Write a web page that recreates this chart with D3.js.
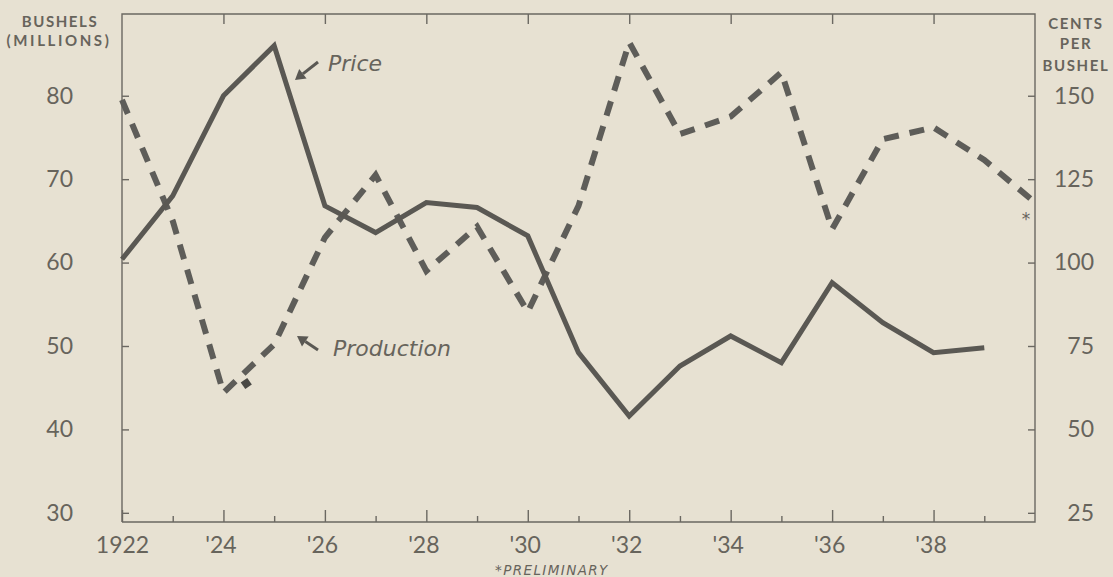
<!DOCTYPE html>
<html>
<head>
<meta charset="utf-8">
<script src="https://cdn.jsdelivr.net/npm/d3@7"></script>
<style>
  html, body { margin: 0; padding: 0; background: #e7e1d2; }
  svg { display: block; }
  text { fill: #67645c; }
  .num { font-family: Lato, "DejaVu Sans", sans-serif; font-size: 23px; }
  .cap { font-family: Lato, "DejaVu Sans", sans-serif; font-weight: 700; font-size: 15px; letter-spacing: 1.6px; }
  .note { font-family: "DejaVu Sans", sans-serif; font-style: italic; font-size: 22px; }
</style>
</head>
<body>
<svg id="chart" width="1113" height="577"></svg>
<script>
// wheat: production (millions of bushels, dashed) and price (cents per bushel, solid)
const priceYears = [1922, 1923, 1924, 1925, 1926, 1927, 1928, 1929, 1930,
  1931, 1932, 1933, 1934, 1935, 1936, 1937, 1938, 1939];
const price = [101, 120, 150, 165, 117, 109, 118, 116.5, 108,
  73, 54, 69, 78, 70, 94, 82, 73, 74.5];

const prodYears = [1922, 1923, 1924, 1925, 1926, 1927, 1928, 1929, 1930,
  1931, 1932, 1933, 1934, 1935, 1936, 1937, 1938, 1939, 1940];
const production = [79.5, 65, 44.4, 50.2, 63, 70.5, 59, 64.3, 54.1,
  66.8, 86.4, 75.4, 77.5, 82.8, 64, 74.8, 76.2, 72.3, 67.2];

const bushelTicks = [30, 40, 50, 60, 70, 80];
const centTicks = [25, 50, 75, 100, 125, 150];
const majorYears = [1922, 1924, 1926, 1928, 1930, 1932, 1934, 1936, 1938];
const minorYears = [1923, 1925, 1927, 1929, 1931, 1933, 1935, 1937, 1939];
const yearLabels = ["1922", "'24", "'26", "'28", "'30", "'32", "'34", "'36", "'38"];

const L = 122, R = 1035, T = 14, B = 522;
const ink = "#5a5853", frame = "#6b6862";

const svg = d3.select("#chart");

const x = d3.scaleLinear().domain([1922, 1940]).range([L, R]);
const yB = d3.scaleLinear().domain([28.9, 89.8]).range([B, T]);
// cents = 2.5 * bushels - 50, so the right scale shares the same grid
const yC = d3.scaleLinear().domain([2.5 * 28.9 - 50, 2.5 * 89.8 - 50]).range([B, T]);

// frame
svg.append("path")
  .attr("d", `M${L},${B}V${T}H${R}V${B}H${L}`)
  .attr("fill", "none").attr("stroke", frame).attr("stroke-width", 1.4);

function styleAxis(g) {
  g.select(".domain").remove();
  g.selectAll("line").attr("stroke", frame).attr("stroke-width", 1.4);
}
function numText(g) {
  g.selectAll("text").attr("class", "num").attr("font-size", null)
    .attr("font-family", null).attr("fill", null);
}

// left axis
svg.append("g").attr("transform", `translate(${L},0)`)
  .call(d3.axisLeft(yB).tickValues(bushelTicks).tickSize(-7).tickPadding(49))
  .call(styleAxis).call(numText);

// right axis
svg.append("g").attr("transform", `translate(${R},0)`)
  .call(d3.axisRight(yC).tickValues(centTicks).tickSize(-7))
  .call(styleAxis).call(numText)
  .call(g => g.selectAll("text").attr("text-anchor", "end").attr("x", 59));

// bottom axis: major ticks with labels, minor ticks without
svg.append("g").attr("transform", `translate(0,${B})`)
  .call(d3.axisBottom(x).tickValues(majorYears).tickSize(-12)
    .tickFormat((d, i) => yearLabels[i]))
  .call(styleAxis).call(numText)
  .call(g => g.selectAll("text").attr("y", 15).attr("dx", (d, i) => i === 0 ? 0 : -3));
svg.append("g").attr("transform", `translate(0,${B})`)
  .call(d3.axisBottom(x).tickValues(minorYears).tickSize(-6).tickFormat(""))
  .call(styleAxis);

// top ticks
svg.append("g").attr("transform", `translate(0,${T})`)
  .call(d3.axisTop(x).tickValues(majorYears.slice(1)).tickSize(-10).tickFormat(""))
  .call(styleAxis);

// axis titles
const capL = svg.append("text").attr("class", "cap").attr("text-anchor", "middle");
capL.append("tspan").attr("x", 60).attr("y", 27).text("BUSHELS");
capL.append("tspan").attr("x", 59).attr("y", 46).attr("letter-spacing", "2.6px").text("(MILLIONS)");
const capR = svg.append("text").attr("class", "cap").attr("text-anchor", "middle");
capR.append("tspan").attr("x", 1076).attr("y", 29).text("CENTS");
capR.append("tspan").attr("x", 1076).attr("y", 49).text("PER");
capR.append("tspan").attr("x", 1076).attr("y", 71).text("BUSHEL");

// lines
svg.append("path")
  .datum(prodYears.map((yr, i) => [yr, production[i]]))
  .attr("d", d3.line().x(d => x(d[0])).y(d => yB(d[1])))
  .attr("fill", "none").attr("stroke", "#5e5d59").attr("stroke-width", 6)
  .attr("stroke-dasharray", "15 11").attr("stroke-linejoin", "miter");

svg.append("path")
  .datum(priceYears.map((yr, i) => [yr, price[i]]))
  .attr("d", d3.line().x(d => x(d[0])).y(d => yC(d[1])))
  .attr("fill", "none").attr("stroke", ink).attr("stroke-width", 5)
  .attr("stroke-linejoin", "miter");

// small blot next to the 1924 low
svg.append("rect")
  .attr("x", x(1924.45) - 4).attr("y", yB(45.5) - 4).attr("width", 8).attr("height", 8)
  .attr("transform", `rotate(-35 ${x(1924.45)} ${yB(45.5)})`)
  .attr("fill", "#4a4945");

// annotations with arrows
function arrow(x1, y1, x2, y2) {
  const a = Math.atan2(y2 - y1, x2 - x1), h = 10, w = 6;
  const bx = x2 - h * Math.cos(a), by = y2 - h * Math.sin(a);
  svg.append("line").attr("x1", x1).attr("y1", y1).attr("x2", bx).attr("y2", by)
    .attr("stroke", ink).attr("stroke-width", 3);
  svg.append("path")
    .attr("d", `M${x2},${y2}L${bx - w * Math.sin(a)},${by + w * Math.cos(a)}L${bx + w * Math.sin(a)},${by - w * Math.cos(a)}Z`)
    .attr("fill", ink);
}
arrow(318, 62, 295, 80);
svg.append("text").attr("class", "note").attr("x", 328).attr("y", 71).text("Price");
arrow(318, 350, 297, 336);
svg.append("text").attr("class", "note").attr("x", 333).attr("y", 356).text("Production");

// preliminary marker
svg.append("text").attr("x", 1026).attr("y", 225).attr("text-anchor", "middle")
  .attr("font-family", "DejaVu Sans, sans-serif").attr("font-size", 17).text("*");
svg.append("text").attr("x", 495).attr("y", 575)
  .attr("font-family", "DejaVu Sans, sans-serif").attr("font-style", "italic")
  .attr("font-size", 13.5).attr("letter-spacing", "1.4px").text("*PRELIMINARY");
</script>
</body>
</html>
